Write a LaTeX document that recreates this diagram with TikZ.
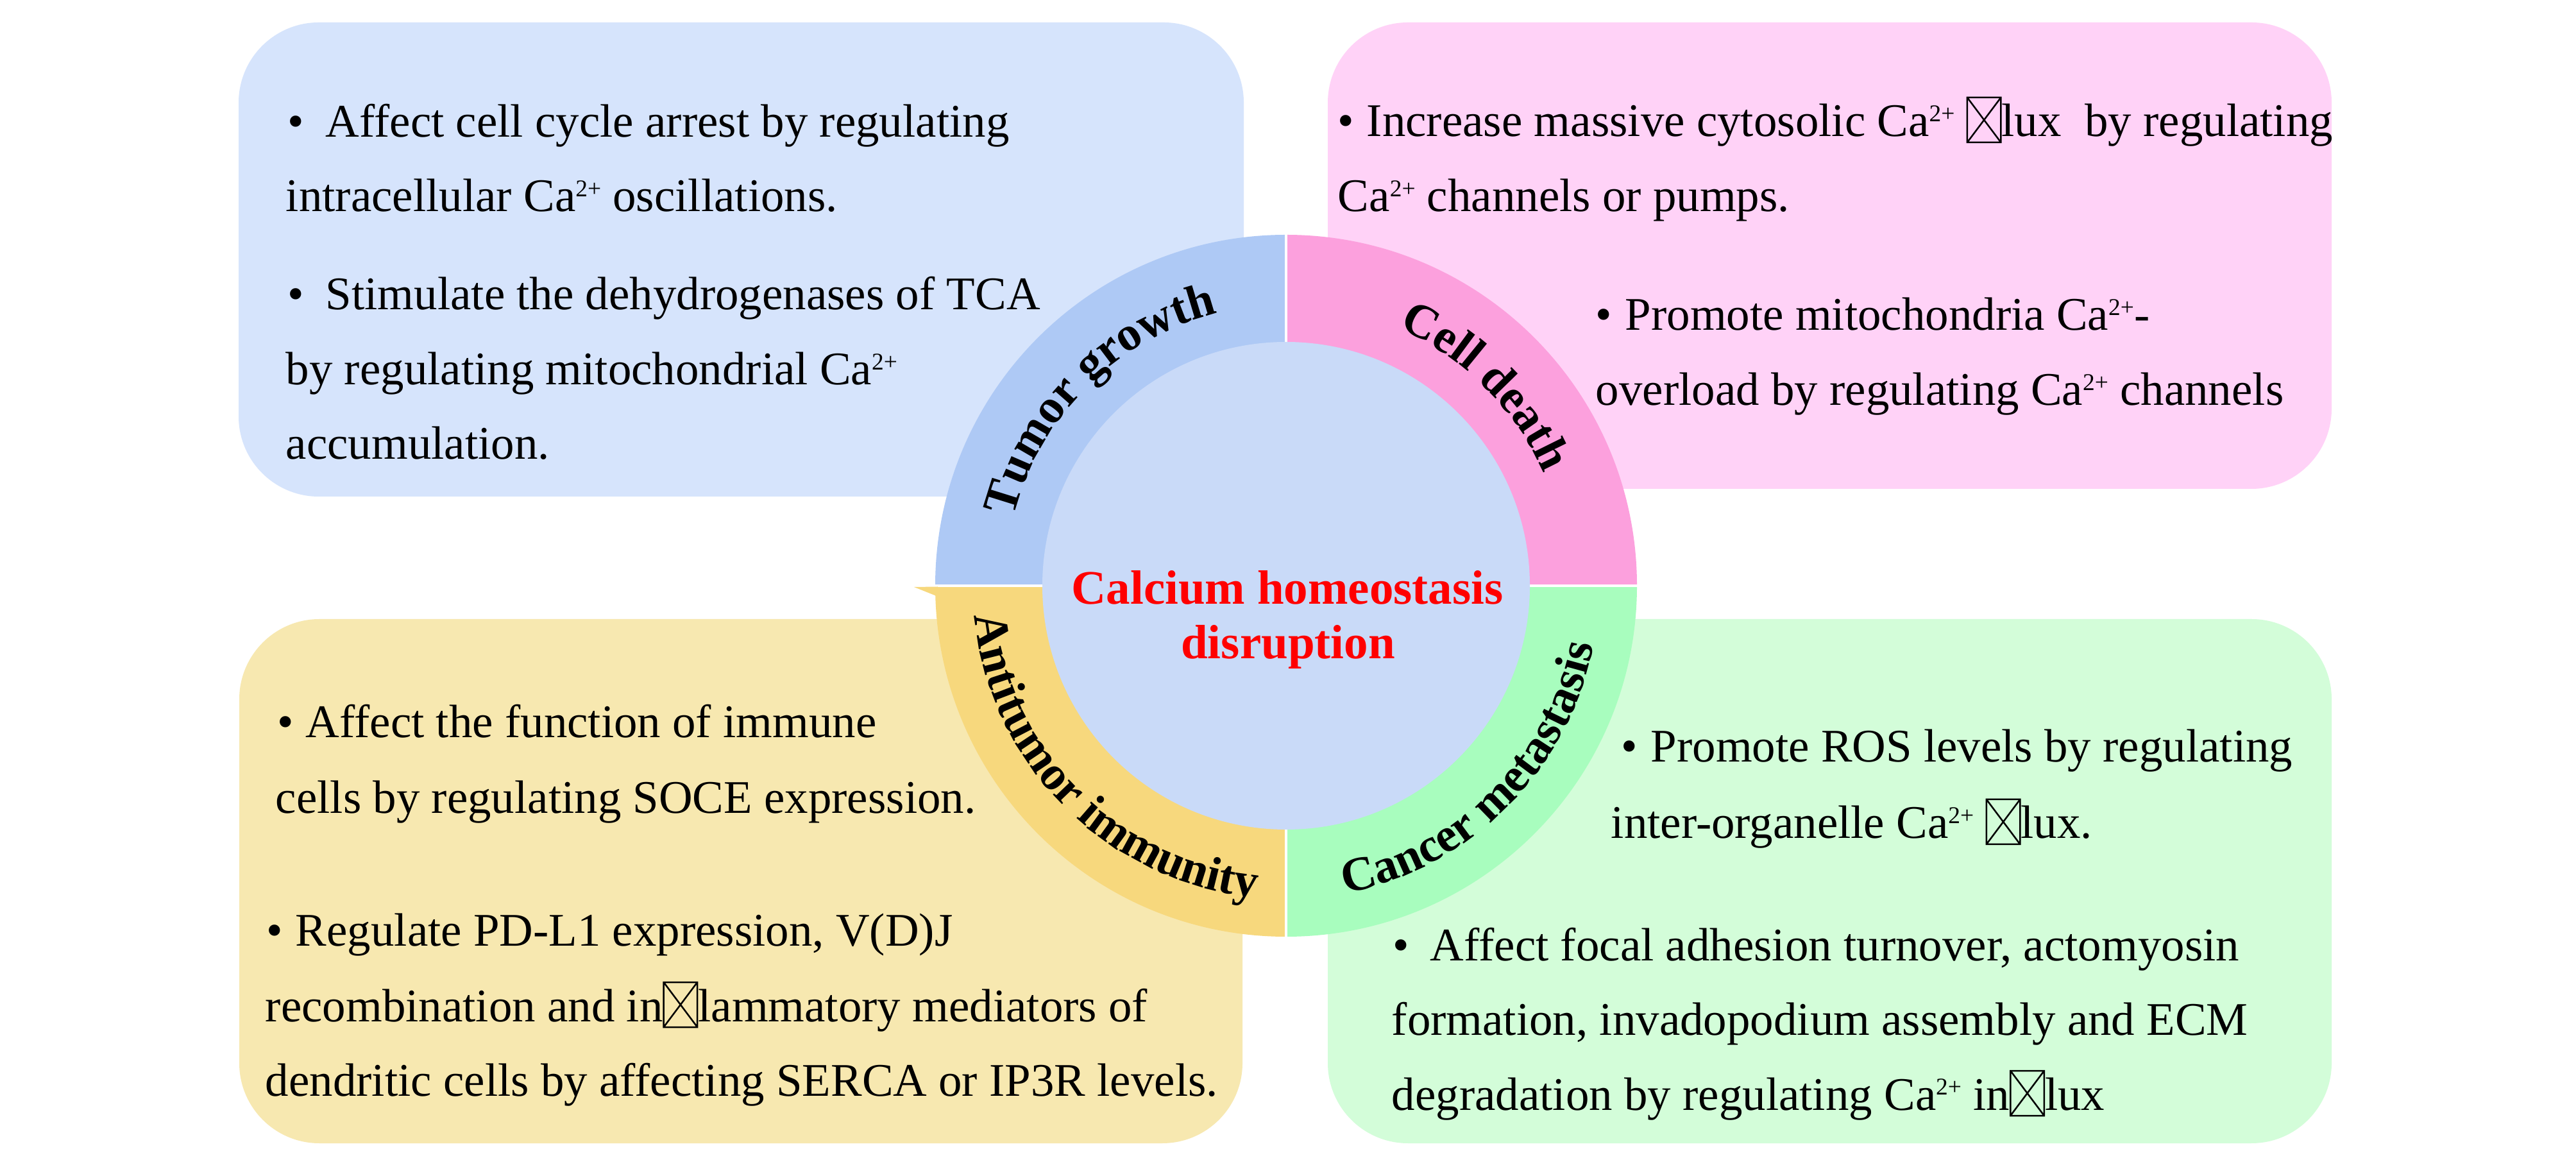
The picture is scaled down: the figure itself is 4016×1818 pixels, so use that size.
\documentclass[tikz,border=0pt]{standalone}
\usepackage{fontspec}
\setmainfont{Liberation Serif}
\usetikzlibrary{decorations.text}
\newlength\pxu
\setlength\pxu{0.24pt}
\newcommand\bodyfont{\fontsize{17.5pt}{21pt}\selectfont}
\newcommand\labfont{\fontsize{18pt}{21pt}\selectfont\bfseries}
\newcommand\ttlfont{\fontsize{18pt}{21pt}\selectfont\bfseries}
\newcommand\ca{Ca\raisebox{5.6pt}{\fontsize{9pt}{9pt}\selectfont 2+}}
\newcommand\bul[1]{\makebox[#1\pxu][l]{•}}
\newcommand\tofu{\tikz[baseline=0pt,x=1pt,y=1pt]{\draw[line width=0.6pt, black] (0.4,-2.16) rectangle (13.0,14.64) (0.4,-2.16) -- (13.0,14.64) (0.4,14.64) -- (13.0,-2.16);}}
\definecolor{boxblue}{HTML}{D6E4FC}
\definecolor{boxpink}{HTML}{FFD2F7}
\definecolor{boxyellow}{HTML}{F7E8B0}
\definecolor{boxgreen}{HTML}{D3FDD9}
\definecolor{ringblue}{HTML}{AEC9F5}
\definecolor{ringpink}{HTML}{FCA0DD}
\definecolor{ringyellow}{HTML}{F7D87D}
\definecolor{ringgreen}{HTML}{A8FDBE}
\definecolor{innerblue}{HTML}{C9DAF8}
\definecolor{titlered}{HTML}{FF0000}
\begin{document}
\begin{tikzpicture}[x=0.24pt,y=0.24pt,
  bodytext/.style={anchor=base west, inner sep=0pt, font=\bodyfont, text=black},
  ttltext/.style={anchor=base, inner sep=0pt, font=\ttlfont, text=titlered},
  panel/.style={rounded corners=30pt},
  gap/.style={draw=white, line width=0.8pt}]
\useasboundingbox (0,0) rectangle (4016,1818);
\fill[white] (0,0) rectangle (4016,1818);
% panels
\fill[boxblue, panel] (372,1044) rectangle (1939,1783);
\fill[boxpink, panel] (2070,1056) rectangle (3635,1783);
\fill[boxyellow, panel] (373,36) rectangle (1937,853);
\fill[boxgreen, panel] (2070,36) rectangle (3635,853);
% ring
\coordinate (c) at (2005,905);
\fill[ringpink] (c) -- ([shift={(0:547)}]c) arc[start angle=0, end angle=90, radius=547] -- cycle;
\fill[ringblue] (c) -- ([shift={(90:547)}]c) arc[start angle=90, end angle=180, radius=547] -- cycle;
\fill[ringyellow] (c) -- ([shift={(180:547)}]c) arc[start angle=180, end angle=270, radius=547] -- cycle;
\fill[ringgreen] (c) -- ([shift={(270:547)}]c) arc[start angle=270, end angle=360, radius=547] -- cycle;
\coordinate (gt) at (2005,1460);
\coordinate (gb) at (2005,350);
\coordinate (gl) at (1440,905);
\coordinate (gr) at (2570,905);
\draw[gap] (gt) -- (gb);
\draw[gap] (gl) -- (gr);
\coordinate (tipa) at (1425,903);
\coordinate (tipb) at (1462,903.5);
\coordinate (tipc) at (1460,889);
\fill[ringyellow] (tipa) -- (tipb) -- (tipc) -- cycle;
\fill[innerblue] (c) circle[radius=380];
% title
\node[ttltext] (title1) at (2007,876) {Calcium homeostasis};
\node[ttltext] (title2) at (2008,791) {disruption};
% ring labels
\path[decorate, decoration={text along path, text={|\labfont|Tumor growth}, text align=center}]
  ([shift={(180:438)}]c) arc[start angle=180, end angle=90, radius=438];
\path[decorate, decoration={text along path, text={|\labfont|Cell death}, text align=center}]
  ([shift={(90:438)}]c) arc[start angle=90, end angle=0, radius=438];
\path[decorate, decoration={text along path, text={|\labfont|Antitumor immunity}, text align=center}]
  ([shift={(180:488)}]c) arc[start angle=180, end angle=270, radius=488];
\path[decorate, decoration={text along path, text={|\labfont|Cancer metastasis}, text align=center}]
  ([shift={(270:488)}]c) arc[start angle=270, end angle=360, radius=488];
% blue panel text
\node[bodytext] (b1) at (448,1604) {\bul{59}Affect cell cycle arrest by regulating};
\node[bodytext] (b2) at (445,1488) {intracellular \ca{} oscillations.};
\node[bodytext] (b3) at (448,1335) {\bul{59}Stimulate the dehydrogenases of TCA};
\node[bodytext] (b4) at (445,1218) {by regulating mitochondrial \ca};
\node[bodytext] (b5) at (445,1102) {accumulation.};
% pink panel text
\node[bodytext] (p1) at (2085,1605) {\bul{45}Increase massive cytosolic \ca{} \tofu lux\ \ by regulating};
\node[bodytext] (p2) at (2085,1488) {\ca{} channels or pumps.};
\node[bodytext] (p3) at (2487,1303) {\bul{46}Promote mitochondria \ca-};
\node[bodytext] (p4) at (2487,1186) {overload by regulating \ca{} channels};
% yellow panel text
\node[bodytext] (y1) at (432,668) {\bul{44}Affect the function of immune};
\node[bodytext] (y2) at (429,550) {cells by regulating SOCE expression.};
\node[bodytext] (y3) at (415,343) {\bul{45}Regulate PD-L1 expression, V(D)J};
\node[bodytext] (y4) at (413,226) {recombination and in\tofu lammatory mediators of};
\node[bodytext] (y5) at (413,110) {dendritic cells by affecting SERCA or IP3R levels.};
% green panel text
\node[bodytext] (g1) at (2527,630) {\bul{46}Promote ROS levels by regulating};
\node[bodytext] (g2) at (2511,511) {inter-organelle \ca{} \tofu lux.};
\node[bodytext] (g3) at (2171,320) {\bul{58}Affect focal adhesion turnover, actomyosin};
\node[bodytext] (g4) at (2169,204) {formation, invadopodium assembly and ECM};
\node[bodytext] (g5) at (2169,88) {degradation by regulating \ca{} in\tofu lux};
\end{tikzpicture}
\end{document}
